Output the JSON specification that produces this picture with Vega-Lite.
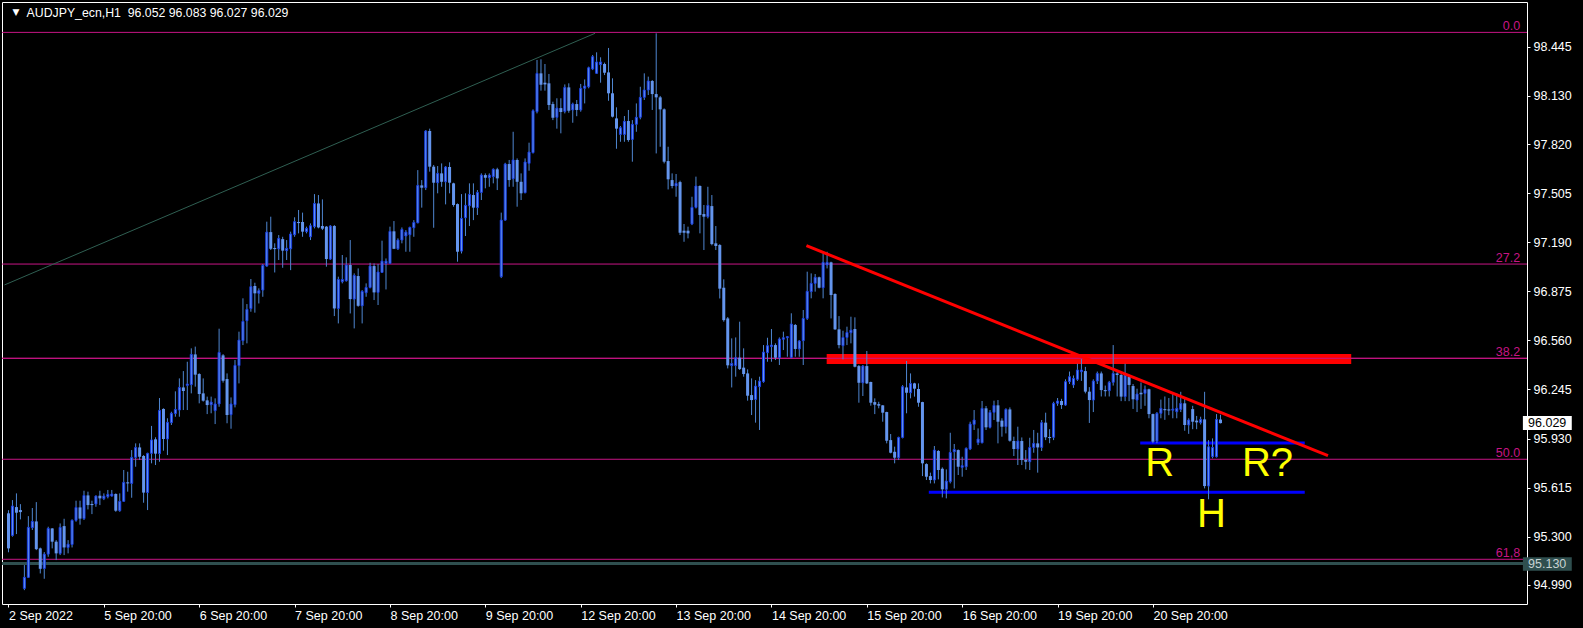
{
"$schema":"https://vega.github.io/schema/vega-lite/v6.json",
"width":1525,"height":602,
"autosize":{"type":"none"},
"padding":{"left":2,"top":2,"right":56,"bottom":24},
"background":"#000000",
"config":{"view":{"stroke":"#FFFFFF","strokeWidth":1},"axis":{"grid":false,"domain":false,"tickColor":"#FFFFFF","labelColor":"#FFFFFF","labelFont":"Liberation Sans","labelFontSize":12.5}},
"datasets":{
"fib":[{"lvl":"0.0","p":98.537},{"lvl":"27.2","p":97.05},{"lvl":"38.2","p":96.445},{"lvl":"50.0","p":95.797},{"lvl":"61,8","p":95.155}],
"green":[{"i":-1,"p":96.916},{"i":147.6,"p":98.531}],
"redtrend":[{"i":200.8,"p":97.168},{"i":332.05,"p":95.82}],
"band":[{"i1":205.9,"i2":337.9,"p1":96.409,"p2":96.473}],
"blue":[{"i1":284.8,"i2":326.2,"p":95.901},{"i1":231.6,"i2":326.2,"p":95.585}],
"notes":[{"t":"R","i":286.05,"p":95.689},{"t":"R?","i":310.4,"p":95.689},{"t":"H","i":299.1,"p":95.362}],
"candles":[
{"i":0,"o":95.45,"h":95.47,"l":95.2,"c":95.225},
{"i":1,"o":95.308,"h":95.535,"l":95.3,"c":95.497},
{"i":2,"o":95.49,"h":95.578,"l":95.317,"c":95.454},
{"i":3,"o":95.471,"h":95.509,"l":95.411,"c":95.458},
{"i":4,"o":94.968,"h":95.118,"l":94.957,"c":95.039},
{"i":5,"o":95.039,"h":95.432,"l":95.035,"c":95.36},
{"i":6,"o":95.358,"h":95.484,"l":95.343,"c":95.398},
{"i":7,"o":95.398,"h":95.522,"l":95.214,"c":95.22},
{"i":8,"o":95.225,"h":95.23,"l":95.064,"c":95.094},
{"i":9,"o":95.096,"h":95.201,"l":95.03,"c":95.188},
{"i":10,"o":95.188,"h":95.364,"l":95.171,"c":95.353},
{"i":11,"o":95.353,"h":95.355,"l":95.225,"c":95.268},
{"i":12,"o":95.268,"h":95.278,"l":95.15,"c":95.193},
{"i":13,"o":95.193,"h":95.385,"l":95.182,"c":95.36},
{"i":14,"o":95.368,"h":95.415,"l":95.182,"c":95.231},
{"i":15,"o":95.231,"h":95.278,"l":95.193,"c":95.252},
{"i":16,"o":95.25,"h":95.411,"l":95.231,"c":95.405},
{"i":17,"o":95.405,"h":95.531,"l":95.396,"c":95.488},
{"i":18,"o":95.488,"h":95.531,"l":95.377,"c":95.416},
{"i":19,"o":95.416,"h":95.595,"l":95.407,"c":95.565},
{"i":20,"o":95.565,"h":95.589,"l":95.475,"c":95.503},
{"i":21,"o":95.51,"h":95.531,"l":95.445,"c":95.503},
{"i":22,"o":95.51,"h":95.565,"l":95.492,"c":95.561},
{"i":23,"o":95.563,"h":95.595,"l":95.503,"c":95.546},
{"i":24,"o":95.544,"h":95.578,"l":95.535,"c":95.561},
{"i":25,"o":95.557,"h":95.6,"l":95.546,"c":95.572},
{"i":26,"o":95.561,"h":95.6,"l":95.557,"c":95.574},
{"i":27,"o":95.574,"h":95.578,"l":95.46,"c":95.467},
{"i":28,"o":95.467,"h":95.578,"l":95.46,"c":95.527},
{"i":29,"o":95.527,"h":95.728,"l":95.525,"c":95.649},
{"i":30,"o":95.649,"h":95.717,"l":95.589,"c":95.642},
{"i":31,"o":95.642,"h":95.856,"l":95.55,"c":95.809},
{"i":32,"o":95.809,"h":95.899,"l":95.749,"c":95.873},
{"i":33,"o":95.873,"h":95.899,"l":95.792,"c":95.813},
{"i":34,"o":95.818,"h":95.824,"l":95.518,"c":95.583},
{"i":35,"o":95.583,"h":95.839,"l":95.471,"c":95.835},
{"i":36,"o":95.835,"h":96.011,"l":95.771,"c":95.921},
{"i":37,"o":95.925,"h":95.938,"l":95.76,"c":95.833},
{"i":38,"o":95.833,"h":96.19,"l":95.781,"c":96.111},
{"i":39,"o":96.12,"h":96.124,"l":95.852,"c":95.927},
{"i":40,"o":95.927,"h":96.06,"l":95.824,"c":96.034},
{"i":41,"o":96.032,"h":96.102,"l":96.017,"c":96.092},
{"i":42,"o":96.09,"h":96.233,"l":96.07,"c":96.117},
{"i":43,"o":96.113,"h":96.316,"l":96.07,"c":96.258},
{"i":44,"o":96.258,"h":96.363,"l":96.113,"c":96.235},
{"i":45,"o":96.271,"h":96.423,"l":96.113,"c":96.28},
{"i":46,"o":96.276,"h":96.509,"l":96.22,"c":96.47},
{"i":47,"o":96.47,"h":96.52,"l":96.263,"c":96.34},
{"i":48,"o":96.344,"h":96.349,"l":96.156,"c":96.216},
{"i":49,"o":96.22,"h":96.316,"l":96.167,"c":96.173},
{"i":50,"o":96.175,"h":96.199,"l":96.087,"c":96.145},
{"i":51,"o":96.147,"h":96.199,"l":96.092,"c":96.164},
{"i":52,"o":96.109,"h":96.188,"l":96.023,"c":96.152},
{"i":53,"o":96.152,"h":96.635,"l":96.134,"c":96.483},
{"i":54,"o":96.464,"h":96.472,"l":96.289,"c":96.301},
{"i":55,"o":96.312,"h":96.348,"l":96.028,"c":96.081},
{"i":56,"o":96.083,"h":96.194,"l":95.993,"c":96.152},
{"i":57,"o":96.147,"h":96.434,"l":96.13,"c":96.4},
{"i":58,"o":96.398,"h":96.616,"l":96.284,"c":96.562},
{"i":59,"o":96.558,"h":96.83,"l":96.53,"c":96.682},
{"i":60,"o":96.686,"h":96.793,"l":96.541,"c":96.759},
{"i":61,"o":96.764,"h":96.954,"l":96.744,"c":96.905},
{"i":62,"o":96.909,"h":96.93,"l":96.738,"c":96.862},
{"i":63,"o":96.862,"h":96.894,"l":96.797,"c":96.879},
{"i":64,"o":96.883,"h":97.05,"l":96.84,"c":97.041},
{"i":65,"o":97.037,"h":97.322,"l":97.033,"c":97.255},
{"i":66,"o":97.255,"h":97.354,"l":97.14,"c":97.148},
{"i":67,"o":97.153,"h":97.183,"l":96.996,"c":97.146},
{"i":68,"o":97.148,"h":97.236,"l":97.076,"c":97.215},
{"i":69,"o":97.21,"h":97.225,"l":97.026,"c":97.136},
{"i":70,"o":97.136,"h":97.204,"l":97.076,"c":97.151},
{"i":71,"o":97.148,"h":97.258,"l":97.011,"c":97.243},
{"i":72,"o":97.238,"h":97.35,"l":97.225,"c":97.322},
{"i":73,"o":97.32,"h":97.397,"l":97.247,"c":97.313},
{"i":74,"o":97.32,"h":97.38,"l":97.225,"c":97.258},
{"i":75,"o":97.258,"h":97.29,"l":97.247,"c":97.279},
{"i":76,"o":97.225,"h":97.311,"l":97.204,"c":97.296},
{"i":77,"o":97.29,"h":97.499,"l":97.279,"c":97.439},
{"i":78,"o":97.439,"h":97.493,"l":97.279,"c":97.285},
{"i":79,"o":97.294,"h":97.465,"l":97.268,"c":97.277},
{"i":80,"o":97.29,"h":97.294,"l":97.033,"c":97.082},
{"i":81,"o":97.082,"h":97.3,"l":97.076,"c":97.294},
{"i":82,"o":97.294,"h":97.3,"l":96.716,"c":96.765},
{"i":83,"o":96.765,"h":96.969,"l":96.669,"c":96.951},
{"i":84,"o":96.937,"h":97.108,"l":96.926,"c":96.951},
{"i":85,"o":96.943,"h":97.093,"l":96.937,"c":97.044},
{"i":86,"o":97.044,"h":97.204,"l":96.733,"c":96.825},
{"i":87,"o":96.825,"h":96.99,"l":96.637,"c":96.977},
{"i":88,"o":96.973,"h":97.022,"l":96.776,"c":96.782},
{"i":89,"o":96.782,"h":96.883,"l":96.669,"c":96.874},
{"i":90,"o":96.866,"h":96.926,"l":96.84,"c":96.9},
{"i":91,"o":96.9,"h":97.058,"l":96.894,"c":97.037},
{"i":92,"o":97.037,"h":97.054,"l":96.819,"c":96.868},
{"i":93,"o":96.868,"h":97.05,"l":96.787,"c":96.999},
{"i":94,"o":96.996,"h":97.2,"l":96.994,"c":97.069},
{"i":95,"o":97.054,"h":97.086,"l":96.887,"c":97.069},
{"i":96,"o":97.054,"h":97.29,"l":97.05,"c":97.26},
{"i":97,"o":97.26,"h":97.326,"l":97.146,"c":97.148},
{"i":98,"o":97.148,"h":97.215,"l":97.14,"c":97.204},
{"i":99,"o":97.204,"h":97.285,"l":97.183,"c":97.272},
{"i":100,"o":97.23,"h":97.268,"l":97.129,"c":97.255},
{"i":101,"o":97.238,"h":97.29,"l":97.129,"c":97.285},
{"i":102,"o":97.283,"h":97.332,"l":97.225,"c":97.317},
{"i":103,"o":97.315,"h":97.653,"l":97.311,"c":97.555},
{"i":104,"o":97.555,"h":97.589,"l":97.412,"c":97.54},
{"i":105,"o":97.54,"h":97.91,"l":97.525,"c":97.904},
{"i":106,"o":97.904,"h":97.919,"l":97.643,"c":97.675},
{"i":107,"o":97.675,"h":97.686,"l":97.283,"c":97.572},
{"i":108,"o":97.572,"h":97.679,"l":97.504,"c":97.632},
{"i":109,"o":97.632,"h":97.696,"l":97.546,"c":97.578},
{"i":110,"o":97.578,"h":97.679,"l":97.433,"c":97.673},
{"i":111,"o":97.673,"h":97.703,"l":97.504,"c":97.572},
{"i":112,"o":97.568,"h":97.572,"l":97.418,"c":97.429},
{"i":113,"o":97.435,"h":97.439,"l":97.065,"c":97.129},
{"i":114,"o":97.133,"h":97.499,"l":97.118,"c":97.343},
{"i":115,"o":97.347,"h":97.504,"l":97.23,"c":97.427},
{"i":116,"o":97.424,"h":97.568,"l":97.294,"c":97.497},
{"i":117,"o":97.493,"h":97.568,"l":97.332,"c":97.412},
{"i":118,"o":97.412,"h":97.525,"l":97.365,"c":97.51},
{"i":119,"o":97.51,"h":97.632,"l":97.461,"c":97.621},
{"i":120,"o":97.621,"h":97.632,"l":97.536,"c":97.604},
{"i":121,"o":97.604,"h":97.632,"l":97.546,"c":97.621},
{"i":122,"o":97.611,"h":97.664,"l":97.568,"c":97.658},
{"i":123,"o":97.658,"h":97.668,"l":97.525,"c":97.6},
{"i":124,"o":96.969,"h":97.38,"l":96.96,"c":97.332},
{"i":125,"o":97.332,"h":97.7,"l":97.328,"c":97.692},
{"i":126,"o":97.692,"h":97.718,"l":97.546,"c":97.589},
{"i":127,"o":97.598,"h":97.899,"l":97.546,"c":97.718},
{"i":128,"o":97.718,"h":97.728,"l":97.418,"c":97.578},
{"i":129,"o":97.578,"h":97.632,"l":97.461,"c":97.504},
{"i":130,"o":97.508,"h":97.728,"l":97.504,"c":97.705},
{"i":131,"o":97.696,"h":97.829,"l":97.649,"c":97.769},
{"i":132,"o":97.765,"h":98.043,"l":97.76,"c":98.034},
{"i":133,"o":98.028,"h":98.36,"l":98.017,"c":98.274},
{"i":134,"o":98.274,"h":98.364,"l":98.163,"c":98.201},
{"i":135,"o":98.214,"h":98.334,"l":98.163,"c":98.203},
{"i":136,"o":98.21,"h":98.27,"l":98.039,"c":98.071},
{"i":137,"o":98.077,"h":98.092,"l":97.974,"c":97.989},
{"i":138,"o":97.992,"h":98.114,"l":97.919,"c":98.051},
{"i":139,"o":98.051,"h":98.114,"l":97.889,"c":98.026},
{"i":140,"o":98.03,"h":98.203,"l":98.017,"c":98.184},
{"i":141,"o":98.184,"h":98.21,"l":98.021,"c":98.034},
{"i":142,"o":98.039,"h":98.086,"l":97.957,"c":98.077},
{"i":143,"o":98.077,"h":98.103,"l":97.999,"c":98.039},
{"i":144,"o":98.039,"h":98.206,"l":98.028,"c":98.178},
{"i":145,"o":98.178,"h":98.235,"l":98.081,"c":98.193},
{"i":146,"o":98.188,"h":98.317,"l":98.178,"c":98.31},
{"i":147,"o":98.302,"h":98.392,"l":98.295,"c":98.381},
{"i":148,"o":98.274,"h":98.409,"l":98.27,"c":98.347},
{"i":149,"o":98.33,"h":98.377,"l":98.214,"c":98.347},
{"i":150,"o":98.334,"h":98.343,"l":98.263,"c":98.278},
{"i":151,"o":98.28,"h":98.437,"l":98.098,"c":98.146},
{"i":152,"o":98.146,"h":98.242,"l":97.991,"c":97.996},
{"i":153,"o":97.985,"h":98.056,"l":97.79,"c":97.919},
{"i":154,"o":97.882,"h":97.936,"l":97.835,"c":97.925},
{"i":155,"o":97.882,"h":98.0,"l":97.835,"c":97.966},
{"i":156,"o":97.968,"h":98.039,"l":97.835,"c":97.846},
{"i":157,"o":97.85,"h":97.974,"l":97.707,"c":97.947},
{"i":158,"o":97.947,"h":98.081,"l":97.899,"c":97.992},
{"i":159,"o":97.992,"h":98.188,"l":97.979,"c":98.12},
{"i":160,"o":98.12,"h":98.274,"l":98.103,"c":98.167},
{"i":161,"o":98.167,"h":98.253,"l":98.135,"c":98.225},
{"i":162,"o":98.225,"h":98.231,"l":98.039,"c":98.141},
{"i":163,"o":98.141,"h":98.531,"l":97.76,"c":98.12},
{"i":164,"o":98.12,"h":98.129,"l":97.803,"c":98.043},
{"i":165,"o":98.043,"h":98.049,"l":97.696,"c":97.707},
{"i":166,"o":97.711,"h":97.803,"l":97.529,"c":97.594},
{"i":167,"o":97.589,"h":97.632,"l":97.536,"c":97.551},
{"i":168,"o":97.551,"h":97.628,"l":97.482,"c":97.568},
{"i":169,"o":97.576,"h":97.585,"l":97.236,"c":97.251},
{"i":170,"o":97.264,"h":97.307,"l":97.193,"c":97.251},
{"i":171,"o":97.264,"h":97.29,"l":97.215,"c":97.247},
{"i":172,"o":97.307,"h":97.482,"l":97.3,"c":97.414},
{"i":173,"o":97.414,"h":97.611,"l":97.407,"c":97.551},
{"i":174,"o":97.551,"h":97.555,"l":97.247,"c":97.365},
{"i":175,"o":97.371,"h":97.429,"l":97.14,"c":97.354},
{"i":176,"o":97.354,"h":97.546,"l":97.343,"c":97.427},
{"i":177,"o":97.422,"h":97.493,"l":97.17,"c":97.178},
{"i":178,"o":97.183,"h":97.294,"l":97.14,"c":97.166},
{"i":179,"o":97.172,"h":97.178,"l":96.829,"c":96.892},
{"i":180,"o":96.898,"h":96.952,"l":96.68,"c":96.69},
{"i":181,"o":96.701,"h":96.71,"l":96.38,"c":96.4},
{"i":182,"o":96.398,"h":96.573,"l":96.258,"c":96.412},
{"i":183,"o":96.398,"h":96.579,"l":96.327,"c":96.449},
{"i":184,"o":96.449,"h":96.68,"l":96.37,"c":96.376},
{"i":185,"o":96.385,"h":96.509,"l":96.327,"c":96.344},
{"i":186,"o":96.348,"h":96.374,"l":96.173,"c":96.205},
{"i":187,"o":96.209,"h":96.316,"l":96.081,"c":96.177},
{"i":188,"o":96.181,"h":96.305,"l":96.032,"c":96.267},
{"i":189,"o":96.263,"h":96.327,"l":95.985,"c":96.299},
{"i":190,"o":96.295,"h":96.53,"l":96.288,"c":96.485},
{"i":191,"o":96.481,"h":96.577,"l":96.423,"c":96.526},
{"i":192,"o":96.52,"h":96.633,"l":96.423,"c":96.53},
{"i":193,"o":96.53,"h":96.541,"l":96.434,"c":96.449},
{"i":194,"o":96.449,"h":96.579,"l":96.402,"c":96.569},
{"i":195,"o":96.567,"h":96.616,"l":96.498,"c":96.577},
{"i":196,"o":96.577,"h":96.588,"l":96.455,"c":96.584},
{"i":197,"o":96.451,"h":96.734,"l":96.445,"c":96.665},
{"i":198,"o":96.659,"h":96.665,"l":96.455,"c":96.505},
{"i":199,"o":96.505,"h":96.562,"l":96.455,"c":96.556},
{"i":200,"o":96.558,"h":96.755,"l":96.402,"c":96.701},
{"i":201,"o":96.701,"h":97.001,"l":96.691,"c":96.875},
{"i":202,"o":96.873,"h":96.99,"l":96.83,"c":96.926},
{"i":203,"o":96.926,"h":96.986,"l":96.873,"c":96.965},
{"i":204,"o":96.965,"h":96.969,"l":96.894,"c":96.898},
{"i":205,"o":96.898,"h":97.119,"l":96.83,"c":97.061},
{"i":206,"o":97.044,"h":97.129,"l":97.022,"c":97.061},
{"i":207,"o":97.061,"h":97.065,"l":96.701,"c":96.851},
{"i":208,"o":96.858,"h":96.862,"l":96.627,"c":96.631},
{"i":209,"o":96.631,"h":96.716,"l":96.509,"c":96.53},
{"i":210,"o":96.526,"h":96.622,"l":96.438,"c":96.579},
{"i":211,"o":96.579,"h":96.648,"l":96.53,"c":96.611},
{"i":212,"o":96.609,"h":96.712,"l":96.541,"c":96.626},
{"i":213,"o":96.633,"h":96.708,"l":96.387,"c":96.391},
{"i":214,"o":96.395,"h":96.402,"l":96.16,"c":96.288},
{"i":215,"o":96.288,"h":96.402,"l":96.203,"c":96.395},
{"i":216,"o":96.395,"h":96.492,"l":96.28,"c":96.284},
{"i":217,"o":96.293,"h":96.295,"l":96.141,"c":96.16},
{"i":218,"o":96.164,"h":96.188,"l":96.087,"c":96.147},
{"i":219,"o":96.151,"h":96.166,"l":96.124,"c":96.141},
{"i":220,"o":96.143,"h":96.145,"l":96.038,"c":96.096},
{"i":221,"o":96.1,"h":96.102,"l":95.899,"c":95.916},
{"i":222,"o":95.92,"h":95.959,"l":95.835,"c":95.839},
{"i":223,"o":95.845,"h":95.878,"l":95.771,"c":95.807},
{"i":224,"o":95.807,"h":95.942,"l":95.792,"c":95.937},
{"i":225,"o":95.937,"h":96.273,"l":95.931,"c":96.263},
{"i":226,"o":96.258,"h":96.428,"l":96.092,"c":96.224},
{"i":227,"o":96.224,"h":96.348,"l":96.188,"c":96.284},
{"i":228,"o":96.284,"h":96.288,"l":96.199,"c":96.25},
{"i":229,"o":96.248,"h":96.284,"l":96.134,"c":96.16},
{"i":230,"o":96.164,"h":96.166,"l":95.689,"c":95.771},
{"i":231,"o":95.766,"h":95.771,"l":95.664,"c":95.685},
{"i":232,"o":95.689,"h":95.711,"l":95.642,"c":95.664},
{"i":233,"o":95.664,"h":95.882,"l":95.642,"c":95.856},
{"i":234,"o":95.85,"h":95.856,"l":95.668,"c":95.728},
{"i":235,"o":95.736,"h":95.745,"l":95.552,"c":95.604},
{"i":236,"o":95.604,"h":95.732,"l":95.546,"c":95.657},
{"i":237,"o":95.653,"h":95.967,"l":95.642,"c":95.841},
{"i":238,"o":95.845,"h":95.895,"l":95.61,"c":95.86},
{"i":239,"o":95.856,"h":95.86,"l":95.696,"c":95.749},
{"i":240,"o":95.745,"h":95.813,"l":95.685,"c":95.756},
{"i":241,"o":95.749,"h":95.873,"l":95.728,"c":95.867},
{"i":242,"o":95.863,"h":96.038,"l":95.856,"c":96.023},
{"i":243,"o":96.021,"h":96.113,"l":95.985,"c":96.049},
{"i":244,"o":95.903,"h":95.995,"l":95.888,"c":95.927},
{"i":245,"o":95.903,"h":96.171,"l":95.899,"c":96.124},
{"i":246,"o":96.124,"h":96.139,"l":95.985,"c":96.002},
{"i":247,"o":96.002,"h":96.113,"l":95.995,"c":96.098},
{"i":248,"o":96.098,"h":96.173,"l":96.049,"c":96.143},
{"i":249,"o":96.143,"h":96.177,"l":95.899,"c":96.038},
{"i":250,"o":96.045,"h":96.06,"l":95.942,"c":96.006},
{"i":251,"o":96.006,"h":96.124,"l":95.963,"c":96.117},
{"i":252,"o":96.117,"h":96.13,"l":95.91,"c":95.916},
{"i":253,"o":95.914,"h":95.942,"l":95.818,"c":95.863},
{"i":254,"o":95.863,"h":96.006,"l":95.76,"c":95.914},
{"i":255,"o":95.914,"h":95.937,"l":95.76,"c":95.792},
{"i":256,"o":95.792,"h":95.856,"l":95.732,"c":95.781},
{"i":257,"o":95.781,"h":95.935,"l":95.728,"c":95.873},
{"i":258,"o":95.873,"h":95.985,"l":95.839,"c":95.899},
{"i":259,"o":95.899,"h":95.967,"l":95.711,"c":95.873},
{"i":260,"o":95.873,"h":96.049,"l":95.85,"c":96.032},
{"i":261,"o":96.032,"h":96.096,"l":95.92,"c":95.938},
{"i":262,"o":95.94,"h":95.99,"l":95.9,"c":95.933},
{"i":263,"o":95.938,"h":96.166,"l":95.92,"c":96.156},
{"i":264,"o":96.156,"h":96.19,"l":96.14,"c":96.171},
{"i":265,"o":96.171,"h":96.185,"l":96.12,"c":96.145},
{"i":266,"o":96.145,"h":96.31,"l":96.14,"c":96.295},
{"i":267,"o":96.295,"h":96.36,"l":96.28,"c":96.327},
{"i":268,"o":96.274,"h":96.335,"l":96.255,"c":96.316},
{"i":269,"o":96.31,"h":96.41,"l":96.3,"c":96.37},
{"i":270,"o":96.359,"h":96.44,"l":96.3,"c":96.37},
{"i":271,"o":96.363,"h":96.39,"l":96.22,"c":96.231},
{"i":272,"o":96.231,"h":96.26,"l":96.03,"c":96.177},
{"i":273,"o":96.177,"h":96.31,"l":96.1,"c":96.299},
{"i":274,"o":96.299,"h":96.36,"l":96.28,"c":96.348},
{"i":275,"o":96.348,"h":96.36,"l":96.2,"c":96.241},
{"i":276,"o":96.241,"h":96.27,"l":96.2,"c":96.234},
{"i":277,"o":96.237,"h":96.3,"l":96.2,"c":96.291},
{"i":278,"o":96.291,"h":96.53,"l":96.27,"c":96.348},
{"i":279,"o":96.348,"h":96.36,"l":96.2,"c":96.338},
{"i":280,"o":96.338,"h":96.35,"l":96.17,"c":96.199},
{"i":281,"o":96.199,"h":96.41,"l":96.17,"c":96.338},
{"i":282,"o":96.327,"h":96.34,"l":96.17,"c":96.274},
{"i":283,"o":96.267,"h":96.28,"l":96.12,"c":96.182},
{"i":284,"o":96.177,"h":96.25,"l":96.1,"c":96.216},
{"i":285,"o":96.224,"h":96.29,"l":96.12,"c":96.214},
{"i":286,"o":96.22,"h":96.27,"l":96.14,"c":96.246},
{"i":287,"o":96.246,"h":96.25,"l":96.06,"c":96.087},
{"i":288,"o":96.087,"h":96.09,"l":95.9,"c":95.91},
{"i":289,"o":95.914,"h":96.1,"l":95.9,"c":96.092},
{"i":290,"o":96.092,"h":96.18,"l":96.06,"c":96.124},
{"i":291,"o":96.119,"h":96.2,"l":96.05,"c":96.112},
{"i":292,"o":96.117,"h":96.19,"l":96.08,"c":96.11},
{"i":293,"o":96.112,"h":96.22,"l":96.06,"c":96.119},
{"i":294,"o":96.102,"h":96.22,"l":96.06,"c":96.124},
{"i":295,"o":96.117,"h":96.23,"l":96.1,"c":96.156},
{"i":296,"o":96.156,"h":96.19,"l":95.98,"c":96.017},
{"i":297,"o":96.017,"h":96.06,"l":95.96,"c":96.049},
{"i":298,"o":96.119,"h":96.14,"l":95.99,"c":96.038},
{"i":299,"o":96.045,"h":96.075,"l":95.99,"c":96.034},
{"i":300,"o":96.032,"h":96.07,"l":96.02,"c":96.053},
{"i":301,"o":96.053,"h":96.23,"l":95.61,"c":95.625},
{"i":302,"o":95.625,"h":95.92,"l":95.54,"c":95.877},
{"i":303,"o":95.814,"h":95.931,"l":95.803,"c":95.873},
{"i":304,"o":95.813,"h":96.087,"l":95.808,"c":96.053},
{"i":305,"o":96.052,"h":96.083,"l":96.027,"c":96.029}
]},
"layer":[
{"data":{"name":"candles"},"mark":{"type":"rule","color":"#4F86D0","strokeWidth":1,"opacity":0},
 "encoding":{"x":{"field":"i","type":"quantitative","title":null,"scale":{"domain":[-0.375,380.875],"nice":false,"zero":false},
  "axis":{"orient":"bottom","title":null,"values":[0,24,48,72,96,120,144,168,192,216,240,264,288],"labelExpr":"['2 Sep 2022','5 Sep 20:00','6 Sep 20:00','7 Sep 20:00','8 Sep 20:00','9 Sep 20:00','12 Sep 20:00','13 Sep 20:00','14 Sep 20:00','15 Sep 20:00','16 Sep 20:00','19 Sep 20:00','20 Sep 20:00'][round(datum.value/24)]","tickSize":3,"labelPadding":2.5,"labelAlign":"left","labelBaseline":"top","labelOverlap":false,"labelFlush":false,"labelBound":false,"zindex":1}},
  "y":{"field":"l","type":"quantitative","title":null,"scale":{"domain":[94.868,98.732],"nice":false,"zero":false},
  "axis":{"orient":"right","title":null,"values":[94.99,95.3,95.615,95.93,96.245,96.56,96.875,97.19,97.505,97.82,98.13,98.445],"format":".3f","tickSize":3,"labelPadding":3,"labelBaseline":"middle","labelOverlap":false,"labelFlush":false,"labelBound":false,"zindex":1}}}},
{"data":{"name":"fib"},"mark":{"type":"rule","color":"#C71585","strokeWidth":1},
 "encoding":{"y":{"field":"p","type":"quantitative","title":null,"scale":{"domain":[94.868,98.732],"nice":false,"zero":false}}}},
{"data":{"values":[{"p":95.128}]},"mark":{"type":"rule","color":"#2F4F4F","strokeWidth":3},
 "encoding":{"y":{"field":"p","type":"quantitative","title":null,"scale":{"domain":[94.868,98.732],"nice":false,"zero":false}}}},
{"data":{"name":"green"},"mark":{"type":"line","color":"#2F5F52","strokeWidth":1,"clip":true},
 "encoding":{"x":{"field":"i","type":"quantitative","title":null,"scale":{"domain":[-0.375,380.875],"nice":false,"zero":false}},
  "y":{"field":"p","type":"quantitative","title":null,"scale":{"domain":[94.868,98.732],"nice":false,"zero":false}}}},
{"data":{"name":"band"},"mark":{"type":"rect","color":"#FF0000"},
 "encoding":{"x":{"field":"i1","type":"quantitative","title":null,"scale":{"domain":[-0.375,380.875],"nice":false,"zero":false}},"x2":{"field":"i2"},
  "y":{"field":"p1","type":"quantitative","title":null,"scale":{"domain":[94.868,98.732],"nice":false,"zero":false}},"y2":{"field":"p2"}}},
{"data":{"values":[{"p":96.445}]},"mark":{"type":"rule","color":"#C71585","strokeWidth":1},
 "encoding":{"y":{"field":"p","type":"quantitative","title":null,"scale":{"domain":[94.868,98.732],"nice":false,"zero":false}}}},
{"data":{"name":"blue"},"mark":{"type":"rule","color":"#0000FF","strokeWidth":3},
 "encoding":{"x":{"field":"i1","type":"quantitative","title":null,"scale":{"domain":[-0.375,380.875],"nice":false,"zero":false}},"x2":{"field":"i2"},
  "y":{"field":"p","type":"quantitative","title":null,"scale":{"domain":[94.868,98.732],"nice":false,"zero":false}}}},
{"data":{"name":"candles"},"mark":{"type":"rule","color":"#4F86D0","strokeWidth":1},
 "encoding":{"x":{"field":"i","type":"quantitative","title":null,"scale":{"domain":[-0.375,380.875],"nice":false,"zero":false}},
  "y":{"field":"l","type":"quantitative","title":null,"scale":{"domain":[94.868,98.732],"nice":false,"zero":false}},"y2":{"field":"h"}}},
{"data":{"name":"candles"},"transform":[{"filter":"datum.c < datum.o"}],"mark":{"type":"bar","width":3,"color":"#6495ED"},
 "encoding":{"x":{"field":"i","type":"quantitative","title":null,"scale":{"domain":[-0.375,380.875],"nice":false,"zero":false}},
  "y":{"field":"o","type":"quantitative","title":null,"scale":{"domain":[94.868,98.732],"nice":false,"zero":false}},"y2":{"field":"c"}}},
{"data":{"name":"candles"},"transform":[{"filter":"datum.c >= datum.o"}],"mark":{"type":"bar","width":2,"fill":"#6495ED","stroke":"#1A3FE0","strokeWidth":1},
 "encoding":{"x":{"field":"i","type":"quantitative","title":null,"scale":{"domain":[-0.375,380.875],"nice":false,"zero":false}},
  "y":{"field":"o","type":"quantitative","title":null,"scale":{"domain":[94.868,98.732],"nice":false,"zero":false}},"y2":{"field":"c"}}},
{"data":{"name":"redtrend"},"mark":{"type":"line","color":"#FF0000","strokeWidth":3},
 "encoding":{"x":{"field":"i","type":"quantitative","title":null,"scale":{"domain":[-0.375,380.875],"nice":false,"zero":false}},
  "y":{"field":"p","type":"quantitative","title":null,"scale":{"domain":[94.868,98.732],"nice":false,"zero":false}}}},
{"data":{"name":"fib"},"mark":{"type":"text","color":"#C71585","font":"Liberation Sans","fontSize":12.5,"align":"right","baseline":"alphabetic","dy":-2},
 "encoding":{"x":{"datum":380.4,"type":"quantitative","title":null,"scale":{"domain":[-0.375,380.875],"nice":false,"zero":false}},
  "y":{"field":"p","type":"quantitative","title":null,"scale":{"domain":[94.868,98.732],"nice":false,"zero":false}},"text":{"field":"lvl"}}},
{"data":{"name":"notes"},"mark":{"type":"text","color":"#FFFF00","font":"Liberation Sans","fontSize":40,"align":"left","baseline":"alphabetic"},
 "encoding":{"x":{"field":"i","type":"quantitative","title":null,"scale":{"domain":[-0.375,380.875],"nice":false,"zero":false}},
  "y":{"field":"p","type":"quantitative","title":null,"scale":{"domain":[94.868,98.732],"nice":false,"zero":false}},"text":{"field":"t"}}},
{"data":{"values":[{"t":"AUDJPY_ecn,H1\u00a0 96.052 96.083 96.027 96.029"}]},"mark":{"type":"text","color":"#FFFFFF","font":"Liberation Sans","fontSize":12.3,"align":"left","baseline":"alphabetic"},
 "encoding":{"x":{"datum":4.55,"type":"quantitative","title":null,"scale":{"domain":[-0.375,380.875],"nice":false,"zero":false}},
  "y":{"datum":98.638,"type":"quantitative","title":null,"scale":{"domain":[94.868,98.732],"nice":false,"zero":false}},"text":{"field":"t"}}},
{"data":{"values":[{"t":"▼"}]},"mark":{"type":"text","color":"#FFFFFF","font":"DejaVu Sans","fontSize":9,"align":"center","baseline":"middle"},
 "encoding":{"x":{"datum":1.875,"type":"quantitative","title":null,"scale":{"domain":[-0.375,380.875],"nice":false,"zero":false}},
  "y":{"datum":98.665,"type":"quantitative","title":null,"scale":{"domain":[94.868,98.732],"nice":false,"zero":false}},"text":{"field":"t"}}},
{"data":{"values":[{"t":"96.029"}]},"mark":{"type":"rect","color":"#FFFFFF"},
 "encoding":{"x":{"datum":381.1,"type":"quantitative","title":null,"scale":{"domain":[-0.375,380.875],"nice":false,"zero":false}},"x2":{"datum":393.4},
  "y":{"datum":96.075,"type":"quantitative","title":null,"scale":{"domain":[94.868,98.732],"nice":false,"zero":false}},"y2":{"datum":95.985}}},
{"data":{"values":[{"t":"95.130"}]},"mark":{"type":"rect","color":"#2F4F4F"},
 "encoding":{"x":{"datum":381.1,"type":"quantitative","title":null,"scale":{"domain":[-0.375,380.875],"nice":false,"zero":false}},"x2":{"datum":393.4},
  "y":{"datum":95.168,"type":"quantitative","title":null,"scale":{"domain":[94.868,98.732],"nice":false,"zero":false}},"y2":{"datum":95.082}}},
{"data":{"values":[{"t":"96.029"}]},"mark":{"type":"text","color":"#000000","font":"Liberation Sans","fontSize":12.5,"align":"left","baseline":"middle"},
 "encoding":{"x":{"datum":382.4,"type":"quantitative","title":null,"scale":{"domain":[-0.375,380.875],"nice":false,"zero":false}},
  "y":{"datum":96.029,"type":"quantitative","title":null,"scale":{"domain":[94.868,98.732],"nice":false,"zero":false}},"text":{"field":"t"}}},
{"data":{"values":[{"t":"95.130"}]},"mark":{"type":"text","color":"#C8D2D2","font":"Liberation Sans","fontSize":12.5,"align":"left","baseline":"middle"},
 "encoding":{"x":{"datum":382.4,"type":"quantitative","title":null,"scale":{"domain":[-0.375,380.875],"nice":false,"zero":false}},
  "y":{"datum":95.126,"type":"quantitative","title":null,"scale":{"domain":[94.868,98.732],"nice":false,"zero":false}},"text":{"field":"t"}}}
]
}
